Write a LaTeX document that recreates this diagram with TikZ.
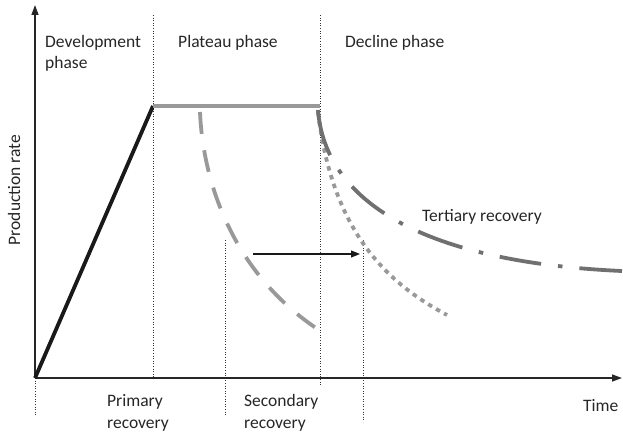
\documentclass[tikz,border=0pt]{standalone}
\usepackage{fontspec}
\setmainfont{Carlito}
\usetikzlibrary{arrows.meta}
\definecolor{lgray}{HTML}{999999}
\definecolor{dgray}{HTML}{707070}
\begin{document}
\begin{tikzpicture}[x=1pt,y=-1pt,
  lbl/.style={font=\fontsize{17.5}{21}\selectfont, text=black!85, inner sep=0pt, anchor=base west},
  guide/.style={dotted, line width=0.6pt, black!80},
  axisline/.style={line width=1.4pt, black!85, -{Triangle[length=10pt,width=7pt]}}]
\useasboundingbox (0,0) rectangle (623,436);
% key points
\coordinate (O) at (35,378);
\coordinate (ytop) at (35,5);
\coordinate (xend) at (622,378);
\coordinate (peak) at (153,106);
\coordinate (pend) at (320,106);
% guides
\coordinate (g1a) at (153,15); \coordinate (g1b) at (153,378);
\coordinate (g2a) at (320,15); \coordinate (g2b) at (320,386);
\coordinate (g0a) at (35,378); \coordinate (g0b) at (35,416);
\coordinate (g3a) at (225,240); \coordinate (g3b) at (225,416);
\coordinate (g4a) at (363,240); \coordinate (g4b) at (363,422);
\draw[guide] (g1a) -- (g1b);
\draw[guide] (g2a) -- (g2b);
\draw[guide] (g0a) -- (g0b);
\draw[guide] (g3a) -- (g3b);
\draw[guide] (g4a) -- (g4b);
% curves
\coordinate (s0) at (200,112); \coordinate (s1) at (319,330);
\draw[lgray, line width=3.8pt, dash pattern=on 22pt off 16.5pt] (s0) .. controls (203,185) and (235,275) .. (s1);
\coordinate (d0) at (318,112); \coordinate (d1) at (447,315);
\draw[lgray, line width=3.8pt, dash pattern=on 4.5pt off 4.7pt] (d0) .. controls (332,230) and (385,282) .. (d1);
\coordinate (t0) at (318,110); \coordinate (t1) at (622,271);
\draw[dgray, line width=3.8pt, dash pattern=on 47pt off 17pt on 4.5pt off 17pt on 42pt off 17pt on 4.5pt off 17pt] (t0) .. controls (325,200) and (420,262) .. (t1);
% axes
\draw[axisline] (O) -- (ytop);
\draw[axisline] (O) -- (xend);
% production lines
\draw[black!90, line width=3.8pt] (O) -- (peak);
\draw[lgray, line width=3.8pt] (peak) -- (pend);
% arrow
\coordinate (a0) at (253,254); \coordinate (a1) at (360,254);
\draw[black!90, line width=1.1pt, -{Triangle[length=9pt,width=7pt]}] (a0) -- (a1);
% labels
\node[lbl] (dev1) at (45,47.5) {Development};
\node[lbl] (dev2) at (45,68.5) {phase};
\node[lbl] (plat) at (178,47.5) {Plateau phase};
\node[lbl] (decl) at (345,47.5) {Decline phase};
\node[lbl] (tert) at (422,221) {Tertiary recovery};
\node[lbl] (prim1) at (107,406.5) {Primary};
\node[lbl] (prim2) at (107,428) {recovery};
\node[lbl] (sec1) at (244,406.5) {Secondary};
\node[lbl] (sec2) at (244,428) {recovery};
\node[lbl] (time) at (583,411) {Time};
\node[lbl, anchor=center, rotate=90] (prod) at (14,190) {Production rate};
\end{tikzpicture}
\end{document}
